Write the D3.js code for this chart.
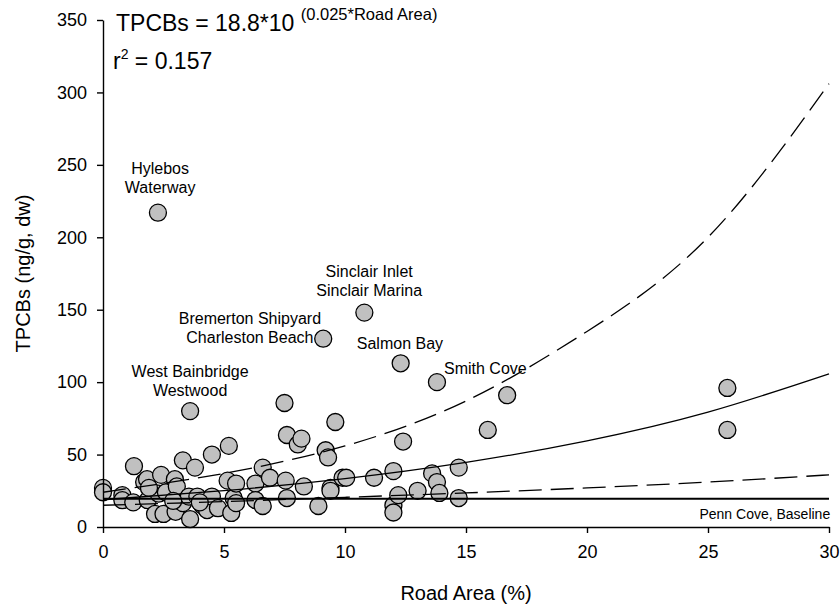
<!DOCTYPE html>
<html>
<head>
<meta charset="utf-8">
<script src="https://cdn.jsdelivr.net/npm/d3@7"></script>
<style>
body { margin: 0; background: #fff; }
svg text { font-family: "Liberation Sans", Arial, sans-serif; fill: #000; }
</style>
</head>
<body>
<div id="chart"></div>
<script>
// sample points: road area (%) and TPCBs (ng/g, dw)
const roadArea = [
    2.27, 9.1, 10.8, 12.3, 13.8, 3.6,
    0, 0, 0.8, 0.8, 1.25, 1.28, 1.7, 1.82, 1.85, 2.15,
    2.3, 2.4, 2.5, 2.6, 2.97, 3.0, 3.05, 3.3, 3.3, 3.55,
    3.6, 3.8, 3.9, 4.1, 4.3, 4.5, 4.5, 4.75, 5.15, 5.2,
    5.3, 5.4, 5.5, 5.5, 6.3, 6.3, 6.6, 6.6, 6.9, 7.5,
    7.55, 7.6, 7.6, 1.9, 2.9, 4.0,
    8.05, 8.2, 8.3, 8.9, 9.2, 9.3, 9.4, 9.4, 9.6, 9.9,
    10.05, 11.2, 12.0, 12.0, 12.0, 12.2, 12.4, 13.0, 13.6, 13.8,
    13.9, 14.7, 14.7, 15.9, 16.7, 25.8, 25.8
]
const tpcbs = [
    217, 130, 148, 113, 100, 80,
    27, 24, 22, 18.5, 17, 42, 31, 33, 18.5, 9,
    23, 36, 9, 24, 33, 10.5, 28, 46, 16.5, 21,
    5.5, 41, 21, 15, 11.7, 50, 21, 13, 32, 56,
    9.7, 20, 16.5, 30, 30, 18.6, 41, 14.5, 34, 85.6,
    32, 63.5, 20, 27, 18, 17,
    57, 61, 28, 14.5, 53, 48, 27, 25, 72.5, 34,
    34, 34, 38.6, 15, 10, 22, 59, 25, 37, 31,
    23.5, 41, 20, 67, 91, 96, 67
]

// regression curve and 95% bands, read at these road areas
const curveX = [0, 5, 10, 15, 20, 25, 30]
const fitY = [18.8, 25.1, 33.4, 44.6, 59.5, 79.3, 105.7]
const upperY = [24, 37, 56, 87, 135, 200, 306]
const lowerY = [15, 17.5, 20.5, 23.5, 27, 31, 36]
const baselineX = [0, 30]
const baselineY = [19.5, 19.5]

const xTicks = [0, 5, 10, 15, 20, 25, 30]
const yTicks = [0, 50, 100, 150, 200, 250, 300, 350]

const siteNames = [
    ['Hylebos', 'Waterway'],
    ['Bremerton Shipyard', 'Charleston Beach'],
    ['Sinclair Inlet', 'Sinclair Marina'],
    ['Salmon Bay'],
    ['Smith Cove'],
    ['West Bainbridge', 'Westwood'],
    ['Penn Cove, Baseline']
]
// label anchors in data units
const siteLabelAt = [
    [2.36, 248], [6.07, 144], [11.0, 177], [12.27, 127],
    [15.8, 110], [3.6, 108], [30.05, 9.7]
]

const settings = {
    width: 840,
    height: 613,
    margin: { left: 103, top: 20, right: 11, bottom: 86 }
}
const m = settings.margin
const w = settings.width - m.left - m.right
const h = settings.height - m.top - m.bottom

const svg = d3.select('#chart')
    .append('svg')
    .attr('width', settings.width)
    .attr('height', settings.height)

const xScale = d3.scaleLinear().domain([0, 30]).range([0, w])
const yScale = d3.scaleLinear().domain([0, 350]).range([h, 0])

const g = svg.append('g')
    .attr('transform', `translate(${m.left}, ${m.top})`)

// points first, lines go over them
g.append('g')
    .selectAll('circle')
    .data(roadArea.map((x, i) => [x, tpcbs[i]]))
    .join('circle')
    .attr('cx', d => xScale(d[0]))
    .attr('cy', d => yScale(d[1]))
    .attr('r', 8.5)
    .attr('fill', '#c0c0c0')
    .attr('stroke', '#000')
    .attr('stroke-width', 1.3)

const line = d3.line()
    .x(d => xScale(d[0]))
    .y(d => yScale(d[1]))
    .curve(d3.curveNatural)

const series = [
    { y: fitY, dash: null },
    { y: upperY, dash: '23,9' },
    { y: lowerY, dash: '23,9' }
]
series.forEach(s => {
    g.append('path')
        .attr('d', line(curveX.map((x, i) => [x, s.y[i]])))
        .attr('fill', 'none')
        .attr('stroke', '#000')
        .attr('stroke-width', 1.3)
        .attr('stroke-dasharray', s.dash)
})

g.append('path')
    .attr('d', d3.line().x(d => xScale(d[0])).y(d => yScale(d[1]))(baselineX.map((x, i) => [x, baselineY[i]])))
    .attr('fill', 'none')
    .attr('stroke', '#000')
    .attr('stroke-width', 2.2)

// axes
const xAxis = d3.axisBottom(xScale).tickValues(xTicks).tickSize(6).tickSizeOuter(0).tickPadding(12)
const yAxis = d3.axisLeft(yScale).tickValues(yTicks).tickSize(6).tickSizeOuter(0).tickPadding(10)

g.append('g')
    .attr('transform', `translate(0, ${h})`)
    .call(xAxis)
    .call(a => a.selectAll('text').attr('font-size', 18))
g.append('g')
    .call(yAxis)
    .call(a => a.selectAll('text').attr('font-size', 18))
svg.selectAll('.domain, .tick line').attr('stroke', '#000').attr('stroke-width', 1.4)
svg.selectAll('.tick text').attr('fill', '#000').attr('font-family', '"Liberation Sans", Arial, sans-serif')

// axis titles
svg.append('text')
    .attr('x', m.left + w / 2)
    .attr('y', 600)
    .attr('text-anchor', 'middle')
    .attr('font-size', 20)
    .text('Road Area (%)')
svg.append('text')
    .attr('transform', `translate(30, ${m.top + h / 2}) rotate(-90)`)
    .attr('text-anchor', 'middle')
    .attr('font-size', 20)
    .text('TPCBs (ng/g, dw)')

// site labels
siteNames.forEach((lines, i) => {
    const [lx, ly] = siteLabelAt[i]
    const last = i === siteNames.length - 1
    const t = g.append('text')
        .attr('text-anchor', last ? 'end' : 'middle')
        .attr('font-size', last ? 14 : 16)
    lines.forEach((s, j) => {
        t.append('tspan')
            .attr('x', xScale(lx))
            .attr('y', yScale(ly) + j * 19 + 6)
            .text(s)
    })
})

// equation
const eq = svg.append('text')
    .attr('x', 116)
    .attr('y', 31)
    .attr('font-size', 23)
eq.append('tspan').text('TPCBs = 18.8*10 ')
eq.append('tspan').attr('font-size', 16.5).attr('dy', -11).text('(0.025*Road Area)')

const r2 = svg.append('text')
    .attr('x', 113)
    .attr('y', 69)
    .attr('font-size', 23)
r2.append('tspan').text('r')
r2.append('tspan').attr('font-size', 14).attr('dy', -10).text('2')
r2.append('tspan').attr('dy', 10).text(' = 0.157')
</script>
</body>
</html>
